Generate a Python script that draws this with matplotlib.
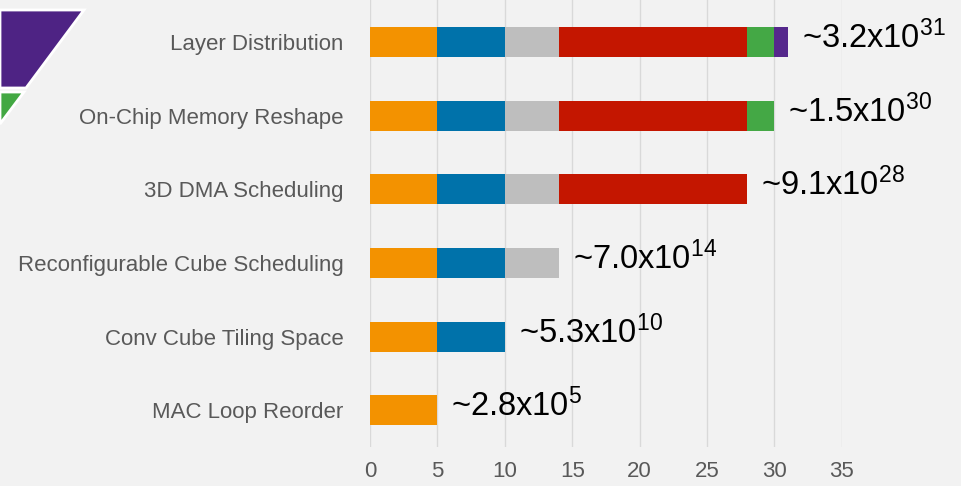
import numpy as np
import matplotlib.pyplot as plt
from matplotlib.patches import Polygon

plt.rcParams['font.family'] = ['Liberation Sans', 'DejaVu Sans']
plt.rcParams['mathtext.fontset'] = 'custom'
plt.rcParams['mathtext.rm'] = 'Liberation Sans'
plt.rcParams['mathtext.default'] = 'regular'

# rows from bottom to top
categories = ['MAC Loop Reorder', 'Conv Cube Tiling Space',
              'Reconfigurable Cube Scheduling', '3D DMA Scheduling',
              'On-Chip Memory Reshape', 'Layer Distribution']
# segment lengths per stage (stage 1..6), 0 where the row has no such stage
stage1 = [5, 5, 5, 5, 5, 5]
stage2 = [0, 5, 5, 5, 5, 5]
stage3 = [0, 0, 4, 4, 4, 4]
stage4 = [0, 0, 0, 14, 14, 14]
stage5 = [0, 0, 0, 0, 2, 2]
stage6 = [0, 0, 0, 0, 0, 1]
mantissa = ['2.8', '5.3', '7.0', '9.1', '1.5', '3.2']
exponent = ['5', '10', '14', '28', '30', '31']
stage_colors = ['#F39200', '#0072AA', '#BEBEBE', '#C41600', '#44A845', '#55288C']

bg = '#F2F2F2'
fig = plt.figure(figsize=(9.61, 4.86), dpi=100, facecolor=bg)
ax = fig.add_axes([0.385, 0.08, 0.491, 0.92], facecolor=bg)

y = np.arange(len(categories))
left = np.zeros(len(categories))
for seg, col in zip([stage1, stage2, stage3, stage4, stage5, stage6], stage_colors):
    seg = np.array(seg, dtype=float)
    ax.barh(y, seg, left=left, height=0.41, color=col, zorder=3)
    left += seg

for yi, total, m, e in zip(y, left, mantissa, exponent):
    ax.annotate('~%sx$10^{%s}$' % (m, e), xy=(total, yi), xytext=(10, 3),
                textcoords='offset points', va='center', ha='left',
                fontsize=23.5, color='black')

ax.set_xlim(0, 35)
ax.set_ylim(-0.5, 5.57)
ax.set_xticks(np.arange(0, 36, 5))
ax.set_yticks(y)
ax.set_yticklabels(categories)
ax.tick_params(axis='y', length=0, pad=19, labelsize=16, labelcolor='#595959')
ax.tick_params(axis='x', length=0, pad=10, labelsize=16, labelcolor='#595959')
ax.grid(axis='x', color='#D9D9D9', linewidth=1, zorder=0)
for s in ax.spines.values():
    s.set_visible(False)

# slide decoration in the top-left corner
fig.patches.append(Polygon([[0, 1 - 10 / 486], [84 / 961, 1 - 10 / 486],
                            [26 / 961, 1 - 88 / 486], [0, 1 - 88 / 486]],
                           closed=True, transform=fig.transFigure,
                           facecolor='#4E2384', edgecolor='white', linewidth=2))
fig.patches.append(Polygon([[0, 1 - 92 / 486], [24 / 961, 1 - 92 / 486],
                            [0, 1 - 124 / 486]],
                           closed=True, transform=fig.transFigure,
                           facecolor='#43A843', edgecolor='white', linewidth=2))

fig.savefig('out.png', dpi=100, facecolor=bg)
